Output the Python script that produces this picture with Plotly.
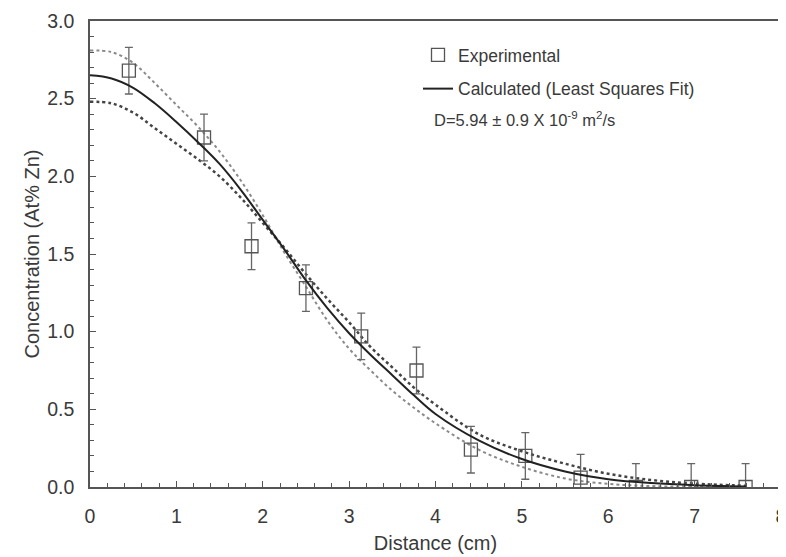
import plotly.graph_objects as go

# Experimental data
exp_x = [0.45, 1.32, 1.87, 2.50, 3.14, 3.78, 4.41, 5.04, 5.68, 6.32, 6.96, 7.59]
exp_y = [2.68, 2.25, 1.55, 1.28, 0.97, 0.75, 0.24, 0.20, 0.06, 0.00, 0.00, 0.00]
exp_err = [0.15] * 12

# Calculated (least squares fit) curve
fit_x = [0, 0.25, 0.5, 0.75, 1.0, 1.25, 1.5, 1.75, 2.0, 2.25, 2.5, 2.75, 3.0, 3.25,
         3.5, 3.75, 4.0, 4.5, 5.0, 5.5, 6.0, 6.5, 7.0, 7.6]
fit_y = [2.65, 2.63, 2.57, 2.47, 2.35, 2.22, 2.08, 1.91, 1.72, 1.53, 1.33, 1.15, 0.99, 0.85,
         0.72, 0.59, 0.47, 0.30, 0.18, 0.10, 0.05, 0.025, 0.012, 0.004]

# Bound curves (dotted)
hi_y = [2.81, 2.80, 2.73, 2.60, 2.46, 2.32, 2.16, 1.97, 1.75, 1.51, 1.29, 1.07, 0.89, 0.75,
        0.62, 0.51, 0.41, 0.24, 0.13, 0.055, 0.02, 0.006, 0.002, 0.0]
lo_y = [2.48, 2.47, 2.41, 2.31, 2.21, 2.11, 2.00, 1.86, 1.70, 1.54, 1.37, 1.21, 1.06, 0.90,
        0.77, 0.64, 0.53, 0.34, 0.23, 0.15, 0.085, 0.045, 0.022, 0.008]

x_ticks = [0, 1, 2, 3, 4, 5, 6, 7, 8]
y_ticks = [0.0, 0.5, 1.0, 1.5, 2.0, 2.5, 3.0]

FONT = "Liberation Sans, Arial, sans-serif"
TXT = "#3a3a3a"
AX = "#555555"

# target plot area in window pixels; the page body adds an 8px offset
OFF = 8
L, R, T, B = 90, 781, 21, 487
W, H = R - L, B - T
FW, FH = 786, 557

fig = go.Figure()

fig.add_trace(go.Scatter(x=fit_x, y=hi_y, mode="lines",
                         line=dict(color="#8a8a8a", width=2, dash="dot", shape="spline"),
                         showlegend=False, hoverinfo="skip"))
fig.add_trace(go.Scatter(x=fit_x, y=lo_y, mode="lines",
                         line=dict(color="#444444", width=2.5, dash="dot", shape="spline"),
                         showlegend=False, hoverinfo="skip"))
fig.add_trace(go.Scatter(x=exp_x, y=exp_y, mode="markers", name="Experimental", legendgroup="a",
                         marker=dict(symbol="square-open", size=13, color="#555555", line=dict(width=1.3)),
                         error_y=dict(type="data", array=exp_err, color="#666666", thickness=1.3, width=4)))
fig.add_trace(go.Scatter(x=fit_x, y=fit_y, mode="lines", name="Calculated (Least Squares Fit)",
                         legendgroup="b", line=dict(color="#222222", width=2, shape="spline")))

fig.add_annotation(x=(432 - L) / W, y=(B - 119) / H, xref="x domain", yref="y domain", showarrow=False,
                   text="D=5.94 ± 0.9 X 10<sup>-9</sup> m<sup>2</sup>/s",
                   font=dict(family=FONT, size=16.5, color=TXT), xanchor="left", yanchor="middle")

axis_common = dict(showgrid=False, zeroline=False, showline=True, linecolor=AX, linewidth=1.5,
                   mirror=True, ticks="inside", ticklen=6, tickcolor=AX, tickwidth=1, automargin=False,
                   tickfont=dict(family=FONT, size=19.5, color=TXT), ticklabeloverflow="allow")

fig.update_xaxes(range=[0, 8], tickvals=x_ticks, ticktext=[str(v) for v in x_ticks],
                 minor=dict(ticks="inside", ticklen=4, dtick=0.2, tickcolor=AX, showgrid=False),
                 ticklabelstandoff=11,
                 title=dict(text="Distance (cm)", font=dict(family=FONT, size=20, color=TXT), standoff=10),
                 **axis_common)
fig.update_yaxes(range=[0, 3], tickvals=y_ticks, ticktext=[f"{v:.1f}" for v in y_ticks],
                 minor=dict(ticks="inside", ticklen=4, dtick=0.1, tickcolor=AX, showgrid=False),
                 ticklabelstandoff=10,
                 title=dict(text="Concentration (At% Zn)", font=dict(family=FONT, size=20, color=TXT), standoff=2),
                 **axis_common)

fig.update_layout(
    width=FW, height=FH,
    margin=dict(l=L - OFF, r=FW - (R - OFF), t=T - OFF, b=FH - (B - OFF), autoexpand=False),
    paper_bgcolor="white", plot_bgcolor="white",
    font=dict(family=FONT, size=17.5, color=TXT),
    legend=dict(x=(418 - L) / W, y=(B - 37) / H, xanchor="left", yanchor="top",
                bgcolor="rgba(0,0,0,0)", font=dict(family=FONT, size=17.5, color=TXT),
                tracegroupgap=8, itemwidth=30),
)

fig.write_html("out.html")
